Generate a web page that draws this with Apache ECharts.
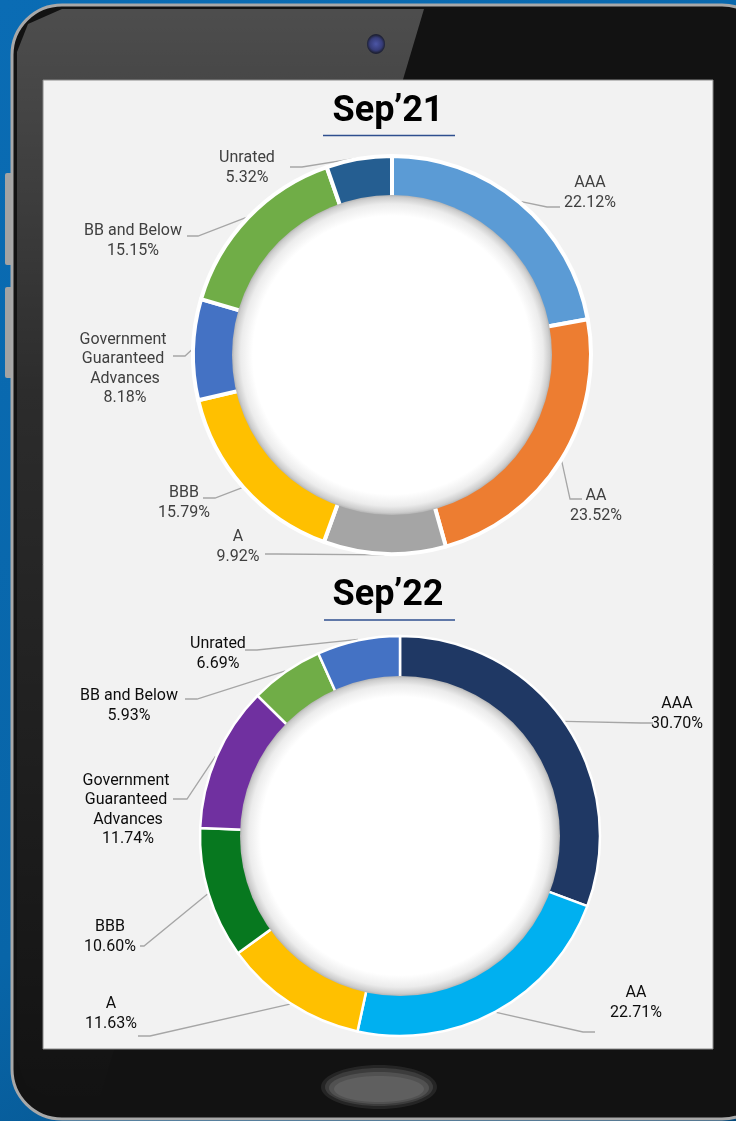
<!DOCTYPE html>
<html>
<head>
<meta charset="utf-8">
<script src="https://cdn.jsdelivr.net/npm/echarts@6/dist/echarts.min.js"></script>
<style>
  html, body { margin: 0; padding: 0; }
  #chart { width: 736px; height: 1121px; }
</style>
</head>
<body>
<div id="chart"></div>
<script>
// rating buckets, clockwise from 12 o'clock
const categories = ['AAA', 'AA', 'A', 'BBB', 'Government Guaranteed Advances', 'BB and Below', 'Unrated']
const values21 = [22.12, 23.52, 9.92, 15.79, 8.18, 15.15, 5.32]
const values22 = [30.70, 22.71, 11.63, 10.60, 11.74, 5.93, 6.69]
const colors21 = ['#5b9bd5', '#ed7d31', '#a5a5a5', '#ffc000', '#4472c4', '#70ad47', '#255e91']
const colors22 = ['#1f3864', '#00b0f0', '#ffc000', '#07781f', '#7030a0', '#70ad47', '#4472c4']

// label layout: [labelX, labelY, lineEndX, lineEndY, elbowLength]
const labelPos21 = [
  [590, 193, 560, 207, 13],
  [596, 506, 582, 499, 12],
  [238, 547, 265, 554, 12],
  [184, 503, 203, 498, 12],
  [125, 369, 173, 356, 12],
  [133, 241, 187, 236, 11],
  [247, 168, 290, 167, 12],
]
const labelPos22 = [
  [677, 714, 653, 723, 12],
  [636, 1003, 595, 1032, 12],
  [111, 1014, 138, 1036, 12],
  [110, 937, 140, 946, 4],
  [128, 810, 173, 799, 14],
  [129, 706, 185, 699, 12],
  [218, 654, 245, 650, 12],
]

const chart = echarts.init(document.getElementById('chart'))

// leader line starts on the outer edge at the middle of each slice
const makeLabelLayout = (values, cx, cy, R, pos) => {
  const total = values.reduce((a, b) => a + b, 0)
  const cum = []
  values.reduce((acc, v, i) => { cum[i] = acc; return acc + v }, 0)
  return (p) => {
    const i = p.dataIndex
    const ang = (cum[i] + values[i] / 2) / total * Math.PI * 2
    const ax = cx + R * Math.sin(ang)
    const ay = cy - R * Math.cos(ang)
    const [lx, ly, ex, ey, el] = pos[i]
    const bx = ex + (ax > ex ? el : -el)
    return {
      x: lx,
      y: ly,
      align: 'center',
      verticalAlign: 'middle',
      labelLinePoints: [[ax, ay], [bx, ey], [ex, ey]],
    }
  }
}

const holeColor = {
  type: 'radial', x: 0.5, y: 0.5, r: 0.5,
  colorStops: [
    { offset: 0, color: '#ffffff' },
    { offset: 0.87, color: '#ffffff' },
    { offset: 0.945, color: '#ececec' },
    { offset: 0.985, color: '#cdcdcd' },
    { offset: 1, color: '#b4b4b4' },
  ],
}

const ringSeries = (values, colors, center, radius, border, textColor, labelLayout) => ({
  type: 'pie',
  center,
  radius,
  startAngle: 90,
  clockwise: true,
  avoidLabelOverlap: false,
  z: 2,
  data: categories.map((name, i) => ({ name, value: values[i], itemStyle: { color: colors[i] } })),
  itemStyle: { borderColor: '#ffffff', borderWidth: border },
  label: {
    show: true,
    position: 'outside',
    formatter: (p) => p.name + '\n' + p.value.toFixed(2) + '%',
    width: 110,
    overflow: 'break',
    fontFamily: 'Roboto',
    fontSize: 16,
    lineHeight: 19.5,
    color: textColor,
  },
  labelLine: { show: true, smooth: false, lineStyle: { color: '#a6a6a6', width: 1.3 } },
  labelLayout,
  emphasis: { disabled: true },
})

const holeSeries = (center, r) => ({
  type: 'pie',
  center,
  radius: [0, r],
  z: 3,
  silent: true,
  label: { show: false },
  labelLine: { show: false },
  itemStyle: { color: holeColor },
  data: [{ name: 'hole', value: 1 }],
})

chart.setOption({
  animation: false,
  graphic: [
    {
      type: 'rect', z: 0, shape: { x: 0, y: 0, width: 736, height: 1121 },
      style: {
        fill: { type: 'linear', x: 0, y: 0, x2: 1, y2: 1, colorStops: [
          { offset: 0, color: '#0a6cb4' }, { offset: 0.6, color: '#0865a8' }, { offset: 1, color: '#06497a' } ] },
      },
    },
    // side buttons
    { type: 'rect', z: 0, shape: { x: 5, y: 173, width: 10, height: 92, r: 2 }, style: { fill: '#a3a3a3' } },
    { type: 'rect', z: 0, shape: { x: 5, y: 287, width: 10, height: 91, r: 2 }, style: { fill: '#a3a3a3' } },
    // tablet body
    {
      type: 'rect', z: 0, shape: { x: 12, y: 5, width: 760, height: 1114, r: 50 },
      style: { fill: '#121212', stroke: '#a8a8a8', lineWidth: 3 },
    },
    // glare
    {
      type: 'polygon', z: 0,
      shape: { points: [[17, 52], [28, 24], [62, 9], [424, 9], [96, 1110], [68, 1108], [26, 1085], [17, 1060]] },
      style: {
        fill: { type: 'linear', x: 0, y: 0, x2: 0, y2: 1, colorStops: [
          { offset: 0, color: 'rgba(255,255,255,0.25)' }, { offset: 0.35, color: 'rgba(255,255,255,0.11)' },
          { offset: 1, color: 'rgba(255,255,255,0.0)' } ] },
      },
    },
    // camera
    {
      type: 'ellipse', z: 0, shape: { cx: 376, cy: 44, rx: 9, ry: 10 },
      style: {
        fill: { type: 'radial', x: 0.5, y: 0.5, r: 0.5, colorStops: [
          { offset: 0, color: '#4c56a6' }, { offset: 0.7, color: '#363c78' }, { offset: 1, color: '#1f2236' } ] },
      },
    },
    // home button (soft blurred blob, stacked layers)
    { type: 'ellipse', z: 0, shape: { cx: 379, cy: 1087, rx: 58, ry: 22 }, style: { fill: 'rgba(95,95,95,0.25)' } },
    { type: 'ellipse', z: 0, shape: { cx: 379, cy: 1087, rx: 54, ry: 19 }, style: { fill: 'rgba(95,95,95,0.4)' } },
    { type: 'ellipse', z: 0, shape: { cx: 379, cy: 1088, rx: 50, ry: 16 }, style: { fill: 'rgba(95,95,95,0.6)' } },
    { type: 'ellipse', z: 0, shape: { cx: 379, cy: 1089, rx: 45, ry: 13 }, style: { fill: '#5f5f5f' } },
    // screen
    {
      type: 'rect', z: 0, shape: { x: 43, y: 80, width: 670, height: 969 },
      style: { fill: '#f2f2f2', stroke: '#8a8a8a', lineWidth: 1 },
    },
    // titles
    {
      type: 'text', z: 5, x: 388, y: 112,
      style: { text: 'Sep’21', fontFamily: 'Roboto', fontWeight: 'bold', fontSize: 36, fill: '#000', align: 'center', verticalAlign: 'middle' },
    },
    { type: 'line', z: 5, shape: { x1: 323, y1: 135.5, x2: 455, y2: 135.5 }, style: { stroke: '#2f4f8f', lineWidth: 1.5 } },
    {
      type: 'text', z: 5, x: 388, y: 596,
      style: { text: 'Sep’22', fontFamily: 'Roboto', fontWeight: 'bold', fontSize: 36, fill: '#000', align: 'center', verticalAlign: 'middle' },
    },
    { type: 'line', z: 5, shape: { x1: 324, y1: 620, x2: 455, y2: 620 }, style: { stroke: '#2f4f8f', lineWidth: 1.5 } },
  ],
  series: [
    ringSeries(values21, colors21, [392, 355], [150, 199], 4, '#404040',
      makeLabelLayout(values21, 392, 355, 200, labelPos21)),
    holeSeries([392, 355], 160),
    ringSeries(values22, colors22, [400, 836], [150, 200], 2.5, '#0d0d0d',
      makeLabelLayout(values22, 400, 836, 201, labelPos22)),
    holeSeries([400, 836], 160),
  ],
})
</script>
</body>
</html>
